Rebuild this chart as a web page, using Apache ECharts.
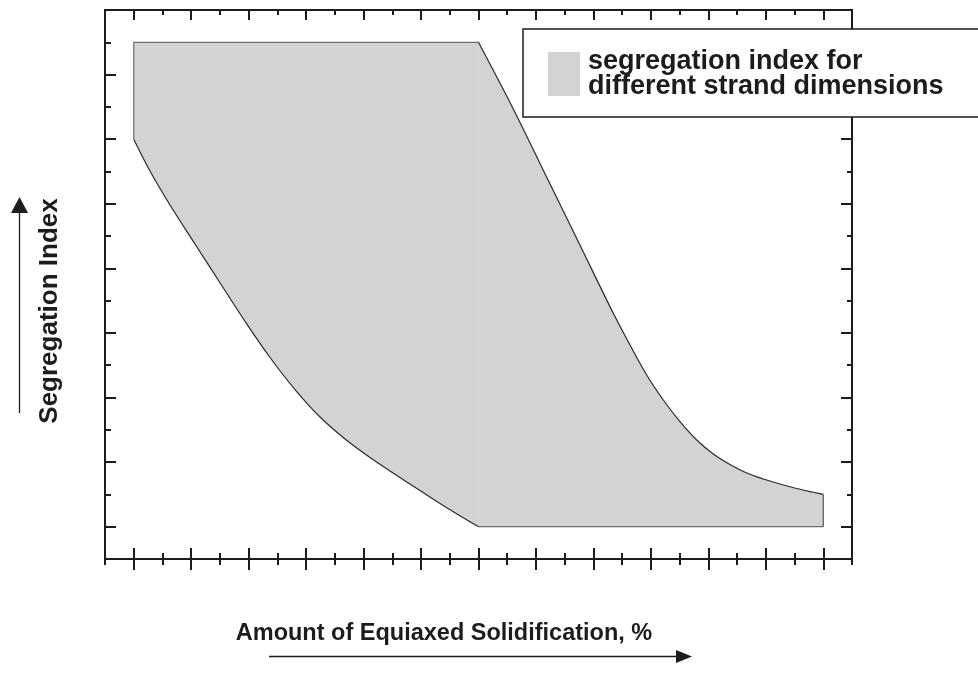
<!DOCTYPE html>
<html>
<head>
<meta charset="utf-8">
<script src="https://cdn.jsdelivr.net/npm/echarts@6/dist/echarts.min.js"></script>
<style>
  html, body { margin: 0; padding: 0; background: #ffffff; }
  #chart { width: 978px; height: 673px; }
</style>
</head>
<body>
<div id="chart"></div>
<script>
// Tick grid along each axis: a tick every 5 units, long ticks at multiples of 10
const xTickValues = [-5, 0, 5, 10, 15, 20, 25, 30, 35, 40, 45, 50, 55, 60, 65, 70, 75, 80, 85, 90, 95, 100, 105, 110, 115, 120, 125];
const yTickValues = [-5, 0, 5, 10, 15, 20, 25, 30, 35, 40, 45, 50, 55, 60, 65, 70, 75, 80];

// Upper edge of the band: flat top, then the falling curve to the right end
const upperX = [0, 60, 66.18, 71.92, 77.67, 83.46, 86.37, 89.27, 92.16, 95.07, 97.98, 100.86, 103.77, 106.68, 109.57, 112.47, 115.38, 118.27, 120];
const upperY = [75, 75, 64.45, 54.02, 43.58, 33.04, 28.13, 23.49, 19.62, 16.26, 13.42, 11.26, 9.63, 8.31, 7.39, 6.61, 5.91, 5.33, 5];

// Lower edge of the band: falling curve from the left end, then flat bottom
const lowerX = [0, 2.83, 6.31, 10.66, 15.01, 19.36, 23.72, 28.07, 32.42, 36.77, 41.12, 45.47, 49.82, 55.04, 60, 120];
const lowerY = [60, 55.07, 49.81, 43.77, 37.77, 31.81, 26.20, 21.24, 16.98, 13.58, 10.71, 8.12, 5.61, 2.63, 0, 0];

// Seam where the two halves of the band meet
const seamX = 60;

const bandName = 'segregation index for\ndifferent strand dimensions';
const bandColor = '#d2d3d5';
const ink = '#1c1c1c';
const font = '"Liberation Sans", Arial, Helvetica, sans-serif';

const upperPts = upperX.map((x, i) => [x, upperY[i]]);
const lowerPts = lowerX.map((x, i) => [x, lowerY[i]]);

function isMajor(index, value) { return Number(value) % 10 === 0; }
function isMinor(index, value) { return Number(value) % 10 !== 0; }

function tickAxis(position, values, inside, length, filter) {
  return {
    type: 'category',
    position: position,
    data: values,
    boundaryGap: false,
    axisLine: { show: true, lineStyle: { color: ink, width: 2 } },
    axisTick: { show: true, inside: inside, length: length, interval: filter,
                lineStyle: { color: ink, width: 2 } },
    axisLabel: { show: false },
    splitLine: { show: false }
  };
}

const chart = echarts.init(document.getElementById('chart'), null, { renderer: 'canvas' });

chart.setOption({
  animation: false,
  backgroundColor: '#ffffff',
  grid: { left: 105, top: 10, width: 747, height: 549, outerBoundsMode: 'none' },
  xAxis: [
    { type: 'value', min: -5, max: 125, show: false },
    tickAxis('bottom', xTickValues, true, 11, isMajor),
    tickAxis('bottom', xTickValues, false, 11, isMajor),
    tickAxis('bottom', xTickValues, true, 6, isMinor),
    tickAxis('bottom', xTickValues, false, 6, isMinor),
    tickAxis('top', xTickValues, true, 10, isMajor),
    tickAxis('top', xTickValues, true, 5, isMinor)
  ],
  yAxis: [
    { type: 'value', min: -5, max: 80, show: false },
    tickAxis('left', yTickValues, true, 11, isMajor),
    tickAxis('left', yTickValues, true, 6, isMinor),
    tickAxis('right', yTickValues, true, 11, isMajor),
    tickAxis('right', yTickValues, true, 5, isMinor)
  ],
  legend: {
    left: 523,
    top: 29,
    orient: 'vertical',
    selectedMode: false,
    data: [{ name: bandName, icon: 'rect', itemStyle: { color: bandColor, borderWidth: 0 } }],
    itemWidth: 32,
    itemHeight: 44,
    padding: [19, 90, 17, 25],
    backgroundColor: '#ffffff',
    borderColor: ink,
    borderWidth: 1.5,
    borderRadius: 0,
    textStyle: { fontFamily: font, fontWeight: 'bold', fontSize: 27, lineHeight: 25,
                 color: ink, padding: [0, 0, 0, 3] }
  },
  series: [{
    name: bandName,
    type: 'custom',
    coordinateSystem: 'cartesian2d',
    xAxisIndex: 0,
    yAxisIndex: 0,
    itemStyle: { color: bandColor },
    data: [upperPts[0]],
    clip: false,
    renderItem: function (params, api) {
      const toPx = p => api.coord(p);
      const upper = upperPts.map(toPx);
      const lower = lowerPts.map(toPx);
      const outline = upper.concat(lower.slice().reverse());
      const curveUpper = upper.slice(1);
      const curveLower = lower.slice(0, lower.length - 1);
      const seamTop = toPx([seamX, upperY[1]]);
      const seamBottom = toPx([seamX, lowerY[lowerY.length - 1]]);
      const edge = (a, b, color) => ({
        type: 'line',
        shape: { x1: a[0], y1: a[1], x2: b[0], y2: b[1] },
        style: { stroke: color, lineWidth: 1.2 }
      });
      const curve = pts => ({
        type: 'polyline',
        shape: { points: pts, smooth: 0.35 },
        style: { stroke: '#2a2a2a', lineWidth: 1.2, fill: null, lineJoin: 'round' }
      });
      return {
        type: 'group',
        children: [
          { type: 'polygon', shape: { points: outline }, style: { fill: bandColor, stroke: null } },
          edge(seamTop, seamBottom, '#d6d7d9'),
          edge(upper[0], upper[1], '#6e6e6e'),
          edge(upper[upper.length - 1], lower[lower.length - 1], '#555555'),
          edge(lower[lower.length - 2], lower[lower.length - 1], '#6e6e6e'),
          edge(lower[0], upper[0], '#6e6e6e'),
          curve(curveUpper),
          curve(curveLower)
        ]
      };
    }
  }],
  graphic: [
    {
      type: 'text', x: 50, y: 311, rotation: Math.PI / 2,
      style: { text: 'Segregation Index', fill: ink, align: 'center', verticalAlign: 'middle',
               font: 'bold 26px ' + font }
    },
    {
      type: 'text', x: 444, y: 634,
      style: { text: 'Amount of Equiaxed Solidification, %', fill: ink, align: 'center',
               verticalAlign: 'middle', font: 'bold 23.5px ' + font }
    },
    { type: 'line', shape: { x1: 19.5, y1: 413, x2: 19.5, y2: 212 }, style: { stroke: ink, lineWidth: 1.3 } },
    { type: 'polygon', shape: { points: [[11, 213], [28, 213], [19.5, 197]] }, style: { fill: ink } },
    { type: 'line', shape: { x1: 269, y1: 656.5, x2: 677, y2: 656.5 }, style: { stroke: ink, lineWidth: 1.3 } },
    { type: 'polygon', shape: { points: [[676, 650], [692, 656.5], [676, 663]] }, style: { fill: ink } }
  ]
});
</script>
</body>
</html>
